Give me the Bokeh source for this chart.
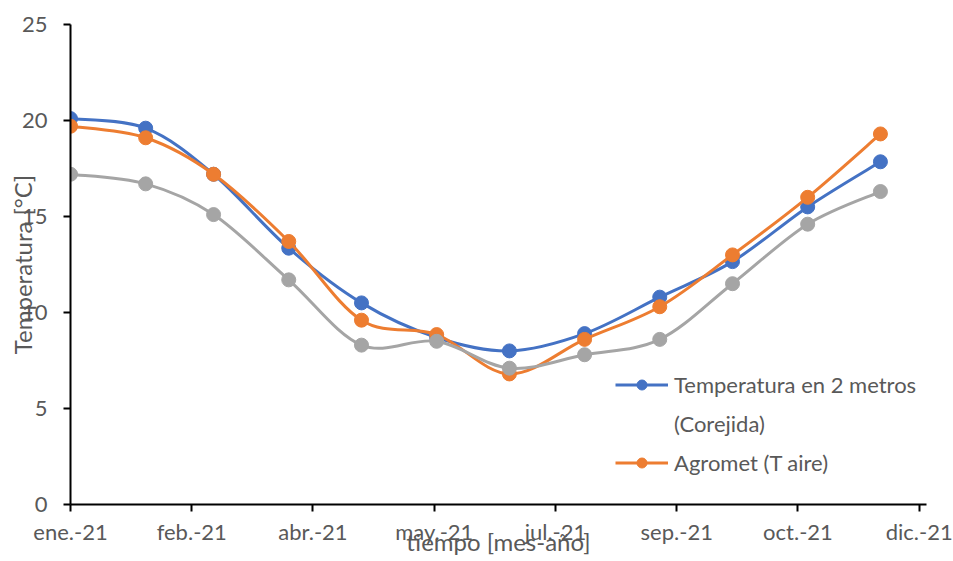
import numpy as np
from bokeh.plotting import figure
from bokeh.models import Range1d, FixedTicker, Legend, LegendItem
from bokeh.embed import file_html
from bokeh.resources import INLINE

# ---- data ----
months = ["2021-01-01", "2021-02-01", "2021-03-01", "2021-04-01", "2021-05-01", "2021-06-01",
          "2021-07-01", "2021-08-01", "2021-09-01", "2021-10-01", "2021-11-01", "2021-12-01"]
temp_2m_corejida = [20.1, 19.6, 17.2, 13.35, 10.5, 8.7, 8.0, 8.9, 10.8, 12.65, 15.5, 17.85]
agromet_t_aire = [19.7, 19.1, 17.2, 13.7, 9.6, 8.85, 6.8, 8.6, 10.3, 13.0, 16.0, 19.3]
serie_gris = [17.2, 16.7, 15.1, 11.7, 8.3, 8.5, 7.1, 7.8, 8.6, 11.5, 14.6, 16.3]
x_tick_dates = ["2021-01-01", "2021-02-20", "2021-04-11", "2021-05-31",
                "2021-07-20", "2021-09-08", "2021-10-28", "2021-12-17"]
x_tick_labels = ["ene.-21", "feb.-21", "abr.-21", "may.-21", "jul.-21", "sep.-21", "oct.-21", "dic.-21"]
y_ticks = [0, 5, 10, 15, 20, 25]
x_start, x_end = "2021-01-01", "2021-12-20"
legend_labels = ["Temperatura en 2 metros", "(Corejida)", "Agromet (T aire)"]

FONT = "Lato"
TXT = "#595959"
FS = "22px"
FS_TITLE = "24px"


def ms(d):
    return np.array(d, dtype="datetime64[ms]").astype(np.int64).astype(float)


xs = ms(months)
xt = ms(x_tick_dates)
x0, x1 = float(ms(x_start)), float(ms(x_end))

p = figure(width=953, height=561, x_axis_type="datetime", output_backend="svg",
           toolbar_location=None, x_range=Range1d(x0, x1), y_range=Range1d(0, 25),
           min_border_left=70, min_border_right=27, min_border_top=24, min_border_bottom=57)
p.outline_line_color = None
p.xgrid.visible = False
p.ygrid.visible = False
p.background_fill_color = "white"
p.border_fill_color = "white"


def bezier_ctrl(x, y):
    x = np.asarray(x, float)
    y = np.asarray(y, float)
    n = len(x)
    qx = np.concatenate([[x[0]], x, [x[-1]]])
    qy = np.concatenate([[y[0]], y, [y[-1]]])
    cx0 = x[:-1] + (qx[2:n + 1] - qx[0:n - 1]) / 6.0
    cy0 = y[:-1] + (qy[2:n + 1] - qy[0:n - 1]) / 6.0
    cx1 = x[1:] - (qx[3:n + 2] - qx[1:n]) / 6.0
    cy1 = y[1:] - (qy[3:n + 2] - qy[1:n]) / 6.0
    return dict(x0=x[:-1], y0=y[:-1], x1=x[1:], y1=y[1:], cx0=cx0, cy0=cy0, cx1=cx1, cy1=cy1)


series = [
    (temp_2m_corejida, "#4472C4"),
    (agromet_t_aire, "#ED7D31"),
    (serie_gris, "#A5A5A5"),
]
legend_r = []
for vals, col in series:
    p.bezier(**bezier_ctrl(xs, vals), line_color=col, line_width=3, line_cap="round")
    sc = p.scatter(xs, vals, size=14, fill_color=col, line_color=col, line_width=1)
    ln = p.line(xs, vals, line_color=col, line_width=3, visible=False)
    legend_r.append((ln, sc))

# axes
for ax in (p.xaxis[0], p.yaxis[0]):
    ax.axis_line_color = "black"
    ax.axis_line_width = 2
    ax.major_tick_line_color = "black"
    ax.major_tick_line_width = 2
    ax.major_tick_out = 7
    ax.major_tick_in = 0
    ax.minor_tick_line_color = None
    ax.major_label_text_font = FONT
    ax.major_label_text_font_size = FS
    ax.major_label_text_color = TXT
    ax.axis_label_text_font = FONT
    ax.axis_label_text_font_size = FS_TITLE
    ax.axis_label_text_color = TXT
    ax.axis_label_text_font_style = "normal"

p.xaxis.ticker = FixedTicker(ticks=list(xt))
p.xaxis.major_label_overrides = {float(t): lab for t, lab in zip(xt, x_tick_labels)}
p.xaxis.major_label_standoff = 6
p.xaxis.axis_label = "tiempo [mes-año]"
p.xaxis.axis_label_standoff = -21
p.yaxis.ticker = FixedTicker(ticks=y_ticks)
p.yaxis.major_label_standoff = 16
p.yaxis.axis_label = "Temperatura [°C]"
p.yaxis.axis_label_standoff = -18

legend = Legend(items=[
    LegendItem(label=legend_labels[0], renderers=list(legend_r[0])),
    LegendItem(label=legend_labels[1], renderers=[]),
    LegendItem(label=legend_labels[2], renderers=list(legend_r[1])),
], location=(545, 28))
legend.border_line_color = None
legend.background_fill_alpha = 0
legend.padding = 0
legend.margin = 0
legend.spacing = 12
legend.glyph_width = 53
legend.glyph_height = 25
legend.label_standoff = 6
legend.label_height = 25
legend.label_text_font = FONT
legend.label_text_font_size = FS
legend.label_text_color = TXT
p.add_layout(legend)

open("out.html", "w").write(file_html(p, INLINE))
